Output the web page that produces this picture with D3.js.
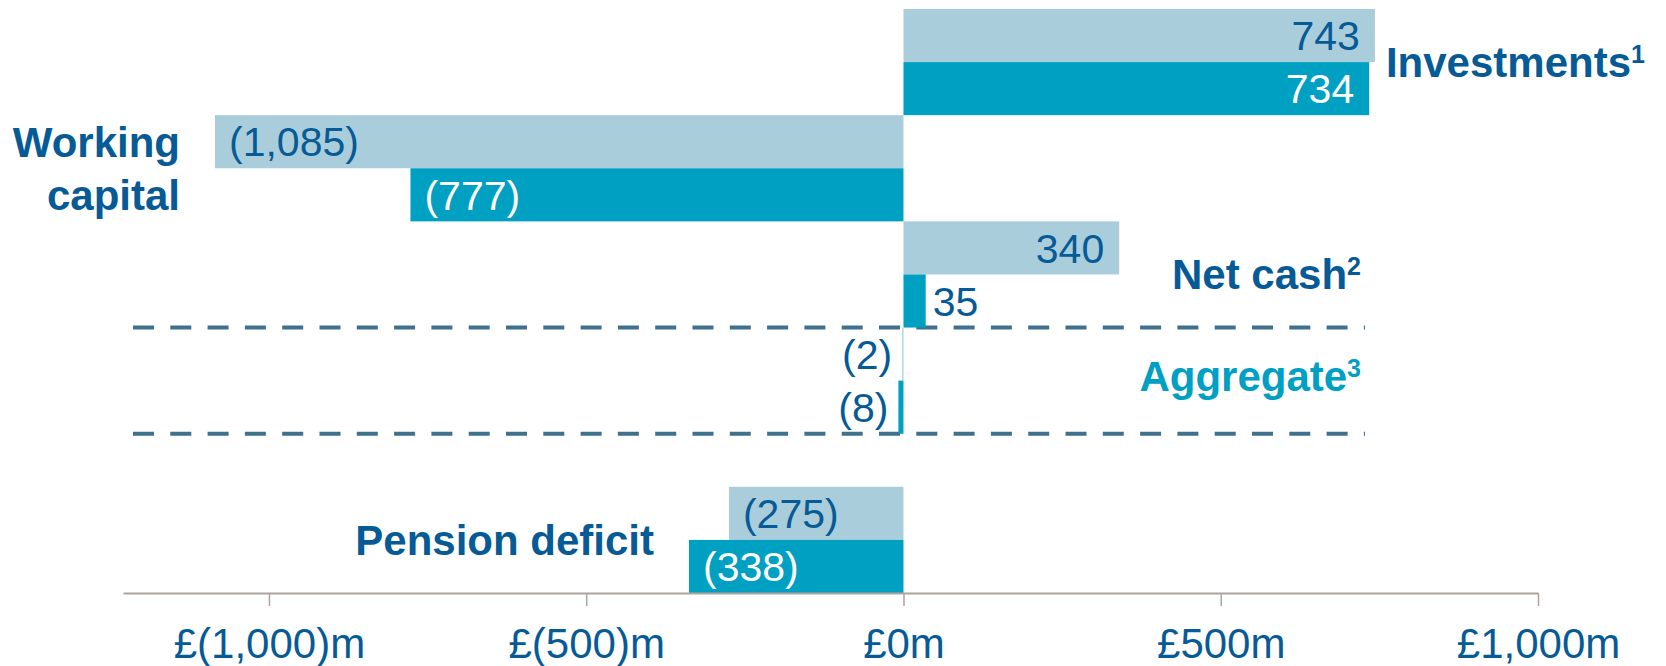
<!DOCTYPE html>
<html>
<head>
<meta charset="utf-8">
<script src="https://cdn.jsdelivr.net/npm/d3@7"></script>
<style>
  body { margin: 0; background: #fff; }
  text { font-family: "Liberation Sans", Arial, sans-serif; }
</style>
</head>
<body>
<div id="chart"></div>
<script>
// chart data
var categories = ["Investments", "Working capital", "Net cash", "Aggregate", "Pension deficit"];
var superscripts = ["1", "", "2", "3", ""];
var priorValues = [743, -1085, 340, -2, -275];
var currentValues = [734, -777, 35, -8, -338];
var tickValues = [-1000, -500, 0, 500, 1000];
var tickLabels = ["£(1,000)m", "£(500)m", "£0m", "£500m", "£1,000m"];

// colours
var lightColor = "#aacddc";
var darkColor = "#00a0c2";
var textColor = "#065b96";
var aggColor = "#00a0c4";

var svgWidth = 1666;
var svgHeight = 666;

var svg = d3.select("#chart")
  .append("svg")
  .attr("width", svgWidth)
  .attr("height", svgHeight);

// x scale
var xScale = d3.scaleLinear()
  .domain([-1230, 1000])
  .range([123, 1538]);

// y slots: two bars per category, plus a half-row gap before pension
var slots = [];
categories.forEach(function(c, i) {
  if (i === categories.length - 1) slots.push("spacer");
  slots.push(i + "-prior");
  slots.push(i + "-current");
});

var yScale = d3.scaleBand()
  .domain(slots)
  .range([9, 593])
  .padding(0);

var bh = yScale.bandwidth();

// bar records
var bars = [];
categories.forEach(function(c, i) {
  bars.push({ i: i, key: i + "-prior", value: priorValues[i], fill: lightColor, inText: textColor });
  bars.push({ i: i, key: i + "-current", value: currentValues[i], fill: darkColor, inText: "#fff" });
});

function fmt(v) {
  var s = d3.format(",")(Math.abs(v));
  return v < 0 ? "(" + s + ")" : s;
}

// dashed lines around aggregate
var aggTop = yScale("3-prior");
var aggBottom = yScale("3-current") + bh;
[aggTop, aggBottom].forEach(function(y) {
  svg.append("line")
    .attr("x1", 133)
    .attr("x2", 1365)
    .attr("y1", y)
    .attr("y2", y)
    .attr("stroke", "#3f718d")
    .attr("stroke-width", 4)
    .attr("stroke-dasharray", "21,16.3");
});

// bars
svg.selectAll("rect.bar")
  .data(bars)
  .enter()
  .append("rect")
  .attr("class", "bar")
  .attr("x", d => xScale(Math.min(0, d.value)))
  .attr("y", d => yScale(d.key))
  .attr("width", d => Math.abs(xScale(d.value) - xScale(0)))
  .attr("height", bh)
  .attr("fill", d => d.fill);

// value labels
var fontSize = 41;
svg.selectAll("text.val")
  .data(bars)
  .enter()
  .append("text")
  .attr("class", "val")
  .style("font-size", fontSize + "px")
  .each(function(d) {
    var t = d3.select(this).text(fmt(d.value));
    var tw = this.getComputedTextLength();
    var w = Math.abs(xScale(d.value) - xScale(0));
    var inside = w > tw + 28;
    var cy = yScale(d.key) + bh / 2 + fontSize * 0.36;
    t.attr("y", cy);
    if (inside) {
      t.attr("fill", d.inText);
      if (d.value >= 0) {
        t.attr("x", xScale(d.value) - 15).attr("text-anchor", "end");
      } else {
        t.attr("x", xScale(d.value) + 14).attr("text-anchor", "start");
      }
    } else {
      t.attr("fill", textColor);
      if (d.value >= 0) {
        t.attr("x", xScale(d.value) + 7).attr("text-anchor", "start");
      } else {
        t.attr("x", xScale(d.value) - 10).attr("text-anchor", "end");
      }
    }
  });

// category labels
var catFont = 42;
categories.forEach(function(c, i) {
  var rowMid = yScale(i + "-current");
  var minV = Math.min(priorValues[i], currentValues[i]);
  var maxV = Math.max(priorValues[i], currentValues[i]);
  var label = svg.append("text")
    .attr("font-weight", "bold")
    .style("font-size", catFont + "px")
    .attr("fill", c === "Aggregate" ? aggColor : textColor);

  var x, anchor, dy = 15;
  if (c === "Investments") {
    x = xScale(maxV) + 11; anchor = "start";
  } else if (c === "Net cash" || c === "Aggregate") {
    x = 1361; anchor = "end";
    if (c === "Aggregate") dy = 10;
  } else {
    x = xScale(minV) - 35; anchor = "end";
  }
  label.attr("x", x).attr("text-anchor", anchor);

  if (c === "Working capital") {
    label.append("tspan").attr("x", x).attr("y", rowMid - bh / 2 + dy).text("Working");
    label.append("tspan").attr("x", x).attr("y", rowMid + bh / 2 + dy).text("capital");
  } else {
    label.attr("y", rowMid + dy).text(c);
    if (superscripts[i]) {
      label.append("tspan")
        .style("font-size", "25px")
        .attr("dy", -14)
        .text(superscripts[i]);
    }
  }
});

// x axis
var bottomAxis = d3.axisBottom(xScale)
  .tickValues(tickValues)
  .tickFormat((d, i) => tickLabels[i])
  .tickSizeInner(13)
  .tickSizeOuter(0)
  .tickPadding(22);

var axisG = svg.append("g")
  .attr("transform", "translate(0, 593)")
  .call(bottomAxis);

axisG.select(".domain")
  .attr("stroke", "#ada49f")
  .attr("stroke-width", 2);
axisG.selectAll(".tick line")
  .attr("stroke", "#ada49f")
  .attr("stroke-width", 1.5);
axisG.selectAll(".tick text")
  .attr("fill", textColor)
  .style("font-size", "42px")
  .style("font-family", "'Liberation Sans', Arial, sans-serif");
</script>
</body>
</html>
